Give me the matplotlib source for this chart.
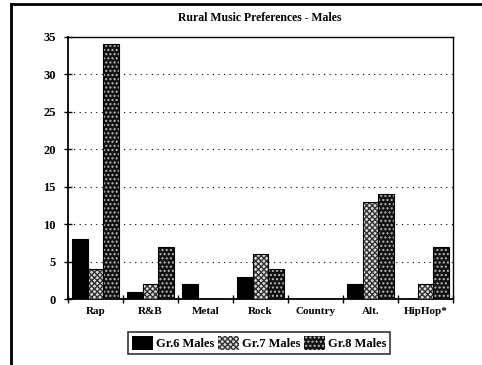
import matplotlib
matplotlib.use("Agg")
import matplotlib.pyplot as plt
from matplotlib.patches import Patch
from matplotlib.lines import Line2D
import numpy as np

categories = ["Rap", "R&B", "Metal", "Rock", "Country", "Alt.", "HipHop*"]
gr6 = [8, 1, 2, 3, 0, 2, 0]
gr7 = [4, 2, 0, 6, 0, 13, 2]
gr8 = [34, 7, 0, 4, 0, 14, 7]
series_names = ["Gr.6 Males", "Gr.7 Males", "Gr.8 Males"]
title = "Rural Music Preferences - Males"

plt.rcParams['font.family'] = ['Liberation Serif', 'DejaVu Serif']
plt.rcParams['hatch.linewidth'] = 1.0

fig = plt.figure(figsize=(4.82, 3.65), dpi=100)
ax = fig.add_axes([68/482, 1-299/365, (453-68)/482, (299-37)/365])

x = np.arange(len(categories))
w = 0.28
styles = [
    dict(face="black", hatch=None, hcol="black"),
    dict(face="#dddddd", hatch="xxxxxx", hcol="#333333"),
    dict(face="#111111", hatch="....", hcol="#bbbbbb"),
]
for i, vals in enumerate([gr6, gr7, gr8]):
    st = styles[i]
    pos = x + (i - 1) * w
    ax.bar(pos, vals, w, color=st["face"], hatch=st["hatch"], edgecolor=st["hcol"], linewidth=0, zorder=3)
    ax.bar(pos, vals, w, fill=False, edgecolor="black", linewidth=0.8, zorder=4)

ax.set_xlim(-0.5, len(categories) - 0.5)
ax.set_ylim(0, 35)
ax.set_yticks(range(0, 36, 5))
ax.set_yticklabels([str(v) for v in range(0, 36, 5)], fontsize=9, fontweight="bold")
ax.set_xticks(x)
ax.set_xticklabels(categories, fontsize=8, fontweight="bold")
ax.tick_params(axis="x", length=0, pad=6)
ax.set_xticks(np.arange(-0.5, len(categories), 1), minor=True)
ax.tick_params(axis="x", which="minor", length=6, direction="inout", width=1)
ax.tick_params(axis="y", length=6, direction="inout", width=1, pad=6)
for yv in range(5, 35, 5):
    ax.axhline(yv, color="black", linestyle=(0, (1, 4)), linewidth=0.8, zorder=1)
for s in ax.spines.values():
    s.set_linewidth(1.0)
ax.spines["left"].set_linewidth(1.3)
ax.spines["bottom"].set_linewidth(1.3)

fig.text(260/482, 1-18/365, title, ha="center", va="center", fontsize=8.5, fontweight="bold")

handles = []
for st in styles:
    handles.append(Patch(facecolor=st["face"], hatch=st["hatch"], edgecolor=st["hcol"], linewidth=0))
leg = fig.legend(handles, series_names, loc="center", bbox_to_anchor=(259/482, 1-343/365),
                 ncol=3, frameon=True, fancybox=False, edgecolor="black",
                 handlelength=1.7, handleheight=1.3, handletextpad=0.2, columnspacing=0.3,
                 borderpad=0.3, prop={'weight': 'bold', 'size': 9})
leg.get_frame().set_linewidth(1.2)

fig.add_artist(Line2D([11/482, 11/482], [0, 1-4/365], color="black", linewidth=2, transform=fig.transFigure))
fig.add_artist(Line2D([11/482, 1], [1-4/365, 1-4/365], color="black", linewidth=2, transform=fig.transFigure))

fig.savefig("out.png", dpi=100)
